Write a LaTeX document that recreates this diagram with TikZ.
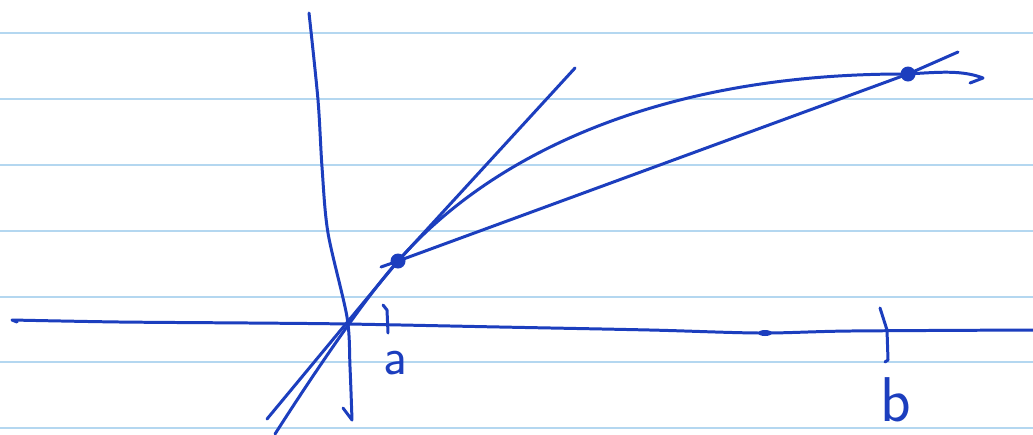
\documentclass[tikz,border=0pt]{standalone}
\usepackage{tikz}
\usepackage{xcolor}
\definecolor{pen}{RGB}{28,62,190}
\definecolor{ruling}{RGB}{180,215,240}

\begin{document}
\begin{tikzpicture}[x=0.02cm, y=-0.02cm,
    ink/.style={draw=pen, line width=1.7pt, line cap=round, line join=round},
    dot/.style={circle, fill=pen, inner sep=0pt, minimum size=0.3cm},
    handlabel/.style={text=pen, inner sep=0pt}]
  \useasboundingbox (0,0) rectangle (1033,434);
  \fill[white] (0,0) rectangle (1033,434);

  % Paper rulings
  \foreach \y in {33, 99, 165, 231, 297, 362, 428}
    \draw[ruling, line width=1.4pt] (0,\y) -- (1033,\y);

  % Axes
  \draw[ink] (17,322) -- (12,320) -- plot[smooth] coordinates
     {(12,320) (120,322) (250,323) (348,324) (500,327) (650,330) (760,333) (850,331) (1033,330)};
  \fill[pen] (765,333) ellipse (7 and 3);
  \draw[ink] plot[smooth] coordinates
     {(309,13) (318,100) (322,167) (328,233) (347,317) (350,367) (352,420)} -- (343,408);

  % Points on the curve
  \node[dot] (pa) at (398,261) {};
  \node[dot] (pb) at (908,74) {};

  % Curve
  \coordinate (c0) at (275,434);
  \coordinate (c1) at (983,78);
  \coordinate (c2) at (970,83);
  \draw[ink] (c0) .. controls (300,395) and (358,306) .. (pa.center)
     .. controls (490,156) and (658,73) .. (pb.center)
     .. controls (940,72) and (962,70) .. (c1) -- (c2);

  % Tangent at a
  \coordinate (tl) at (267,419);
  \coordinate (tr) at (575,68);
  \draw[ink] (tl) -- (pa.center) -- (tr);

  % Secant through a and b
  \coordinate (sl) at (381,267);
  \coordinate (sr) at (958,52);
  \draw[ink] (sl) -- (pa.center) -- (pb.center) -- (sr);

  % Ticks and labels
  \draw[ink] (383,305) -- (387,310) -- (388,333);
  \node[handlabel, font=\sffamily\fontsize{30}{30}\selectfont] (la) at (395,363) {a};
  \draw[ink] (880,308) -- (887,330) -- (888,360) -- (885,362);
  \node[handlabel, font=\sffamily\fontsize{36}{36}\selectfont] (lb) at (896,400) {b};
\end{tikzpicture}
\end{document}
